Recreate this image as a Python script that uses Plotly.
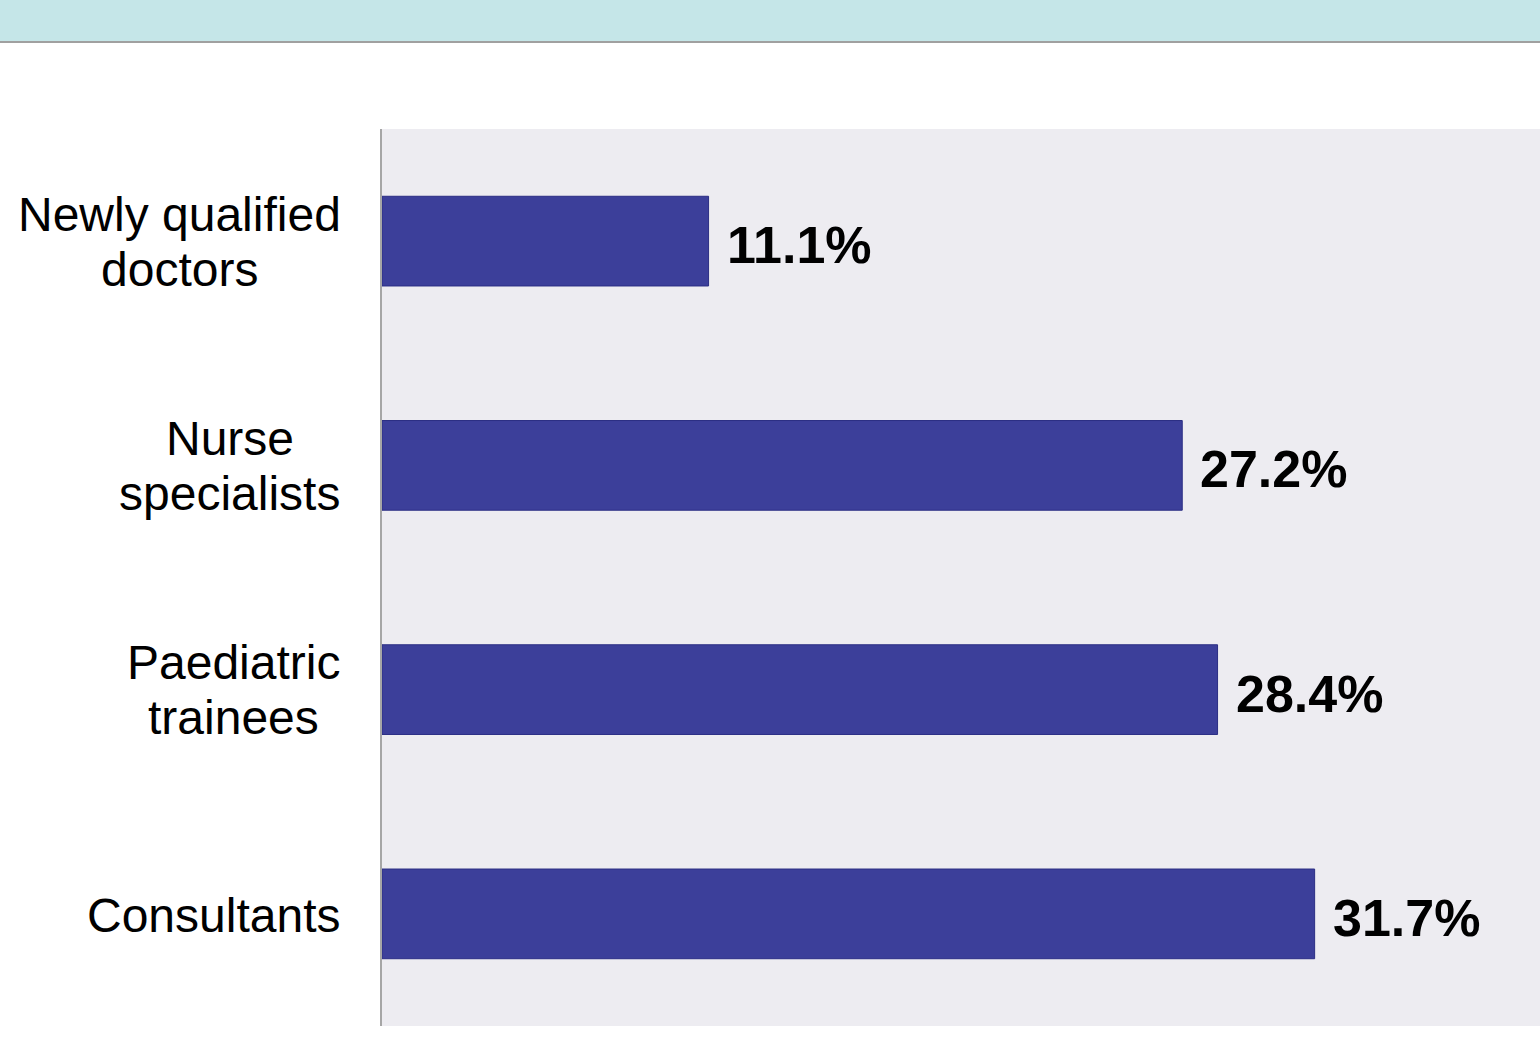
import plotly.graph_objects as go

categories = ["Newly qualified doctors", "Nurse specialists", "Paediatric trainees", "Consultants"]
category_lines = [["Newly qualified", "doctors"], ["Nurse", "specialists"], ["Paediatric", "trainees"], ["Consultants"]]
values = [11.1, 27.2, 28.4, 31.7]
value_labels = ["11.1%", "27.2%", "28.4%", "31.7%"]

W, H = 1540, 1052
ML, MR, MT, MB = 382, 0, 129, 26
PH = H - MT - MB
# horizontal centre (px from left of page) of each multi-line label block
label_centres = [179, 229.5, 233, None]

fig = go.Figure()
fig.add_trace(go.Bar(
    y=list(range(len(categories))), x=values, orientation="h", width=0.4,
    marker=dict(color="#3C3F9A", line=dict(color="#2B2E84", width=1)),
    hoverinfo="skip",
))

font = "Arial, Liberation Sans, Helvetica, sans-serif"
for i, (lines, v, lab) in enumerate(zip(category_lines, values, value_labels)):
    fig.add_annotation(x=v, y=i, xref="x", yref="y", text="<b>" + lab + "</b>", showarrow=False,
                       xanchor="left", yanchor="middle", xshift=16, yshift=-4,
                       font=dict(family=font, size=52, color="#000000"))
    if len(lines) == 1:
        fig.add_annotation(x=0, y=i, xref="paper", yref="y", text=lines[0], showarrow=False,
                           xanchor="right", yanchor="middle", xshift=-40, yshift=-2,
                           font=dict(family=font, size=48, color="#000000"))
    else:
        for k, ln in enumerate(lines):
            fig.add_annotation(x=0, y=i, xref="paper", yref="y", text=ln, showarrow=False,
                               xanchor="center", yanchor="middle",
                               xshift=label_centres[i] - ML, yshift=27 - 55 * k,
                               font=dict(family=font, size=48, color="#000000"))

def py(px):
    return 1 + (MT - px) / PH

fig.add_shape(type="rect", xref="paper", yref="paper", x0=-ML / (W - ML), x1=1.0,
              y0=py(41), y1=py(-5), fillcolor="#C5E6E8", line=dict(width=0), layer="below")
fig.add_shape(type="line", xref="paper", yref="paper", x0=-ML / (W - ML), x1=1.0,
              y0=py(42), y1=py(42), line=dict(color="#A0A0A0", width=2))

fig.update_layout(
    width=W, height=H, margin=dict(l=ML, r=MR, t=MT, b=MB),
    paper_bgcolor="#FFFFFF", plot_bgcolor="#EDECF1", showlegend=False,
    xaxis=dict(range=[0, 39.36], showgrid=False, zeroline=False, showticklabels=False, ticks=""),
    yaxis=dict(range=[3.5, -0.5], showgrid=False, zeroline=False, showticklabels=False, ticks="",
               showline=True, linecolor="#A6A6A6", linewidth=2),
)

fig.write_html("out.html")
